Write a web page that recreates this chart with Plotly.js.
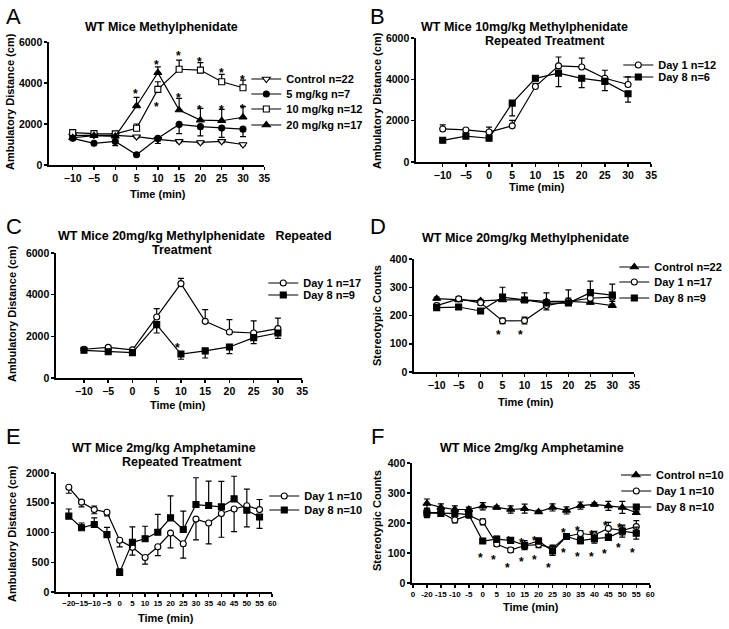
<!DOCTYPE html>
<html><head><meta charset="utf-8">
<script src="https://cdn.plot.ly/plotly-3.0.1.min.js"></script>
<style>html,body{margin:0;padding:0;background:#fff}#chart{width:729px;height:629px}</style>
</head><body><div id="chart"></div>
<script>
// ---------------- DATA ----------------
const timeShort = [-10, -5, 0, 5, 10, 15, 20, 25, 30];
const timeLong = [-20, -15, -10, -5, 0, 5, 10, 15, 20, 25, 30, 35, 40, 45, 50, 55];
const ticksShort = [-10, -5, 0, 5, 10, 15, 20, 25, 30, 35];
const ticksE = [-20, -15, -10, -5, 0, 5, 10, 15, 20, 25, 30, 35, 40, 45, 50, 55, 60];
const ticksFvals = [-25, -20, -15, -10, -5, 0, 5, 10, 15, 20, 25, 30, 35, 40, 45, 50, 55, 60];
const ticksFtext = ["0", "-20", "-15", "-10", "-5", "0", "5", "10", "15", "20", "25", "30", "35", "40", "45", "50", "55", "60"];

// Panel A
const A_ctrl = [1430, 1460, 1450, 1380, 1250, 1150, 1100, 1150, 1000];
const A_ctrl_err = [50, 50, 50, 60, 70, 60, 60, 60, 60];
const A_5 = [1300, 1060, 1150, 500, 1300, 1980, 1870, 1800, 1750];
const A_5_errMinus = [80, 60, 200, 60, 250, 450, 450, 450, 370];
const A_10 = [1580, 1530, 1520, 1790, 3690, 4670, 4630, 4060, 3770];
const A_10_errPlus = [60, 50, 60, 210, 370, 450, 360, 360, 375];
const A_20 = [1330, 1430, 1400, 2880, 4500, 2680, 2190, 2160, 2330];
const A_20_errPlus = [50, 50, 50, 420, 290, 570, 570, 550, 520];
const A_star_x = [4.7, 9.8, 9.8, 14.9, 14.9, 19.8, 19.8, 24.9, 24.9, 29.9, 29.9];
const A_star_y = [3616, 5027, 3000, 5465, 3405, 5189, 2838, 4621, 2838, 4297, 2870];

// Panel B
const B_d1 = [1600, 1550, 1450, 1750, 3650, 4650, 4600, 4050, 3750];
const B_d1_errPlus = [200, 80, 240, 260, 150, 430, 430, 390, 370];
const B_d8 = [1050, 1250, 1150, 2850, 4050, 4300, 4050, 3900, 3300];
const B_d8_errMinus = [50, 50, 50, 620, 50, 650, 450, 450, 400];

// Panel C
const C_d1 = [1380, 1470, 1350, 2930, 4530, 2720, 2210, 2160, 2370];
const C_d1_errPlus = [60, 60, 60, 400, 250, 560, 590, 580, 500];
const C_d8 = [1330, 1260, 1220, 2560, 1150, 1300, 1490, 1940, 2160];
const C_d8_errMinus = [60, 60, 60, 400, 250, 340, 320, 290, 260];
const C_star_x = [9.2];
const C_star_y = [1570];

// Panel D
const D_ctrl = [260, 255, 252, 255, 255, 250, 250, 246, 235];
const D_ctrl_err = [5, 5, 5, 5, 5, 5, 5, 5, 5];
const D_d1 = [235, 259, 245, 181, 182, 235, 250, 261, 265];
const D_d1_err = [8, 8, 8, 10, 12, 15, 12, 15, 15];
const D_d8 = [228, 230, 216, 265, 255, 244, 244, 281, 272];
const D_d8_errPlus = [6, 6, 6, 35, 25, 36, 47, 41, 39];
const D_star_x = [4.1, 9.2];
const D_star_y = [143, 143];

// Panel E
const E_d1 = [1760, 1510, 1385, 1340, 870, 750, 580, 760, 990, 810, 1225, 1160, 1320, 1395, 1450, 1385];
const E_d1_errPlus = [0, 30, 60, 0, 0, 0, 0, 0, 0, 0, 0, 0, 0, 0, 280, 170];
const E_d1_errMinus = [100, 80, 70, 60, 110, 130, 110, 150, 250, 240, 350, 350, 400, 380, 0, 0];
const E_d8 = [1275, 1080, 1135, 965, 330, 835, 895, 1005, 1245, 1050, 1470, 1455, 1430, 1565, 1375, 1260];
const E_d8_errPlus = [120, 80, 110, 120, 60, 260, 210, 300, 370, 310, 450, 410, 430, 380, 0, 0];
const E_d8_errMinus = [0, 0, 0, 0, 0, 0, 0, 0, 0, 0, 0, 0, 0, 0, 280, 190];

// Panel F
const F_ctrl = [265, 252, 245, 245, 256, 252, 245, 248, 237, 252, 242, 258, 262, 257, 252, 234];
const F_ctrl_err = [15, 12, 12, 8, 12, 5, 12, 15, 5, 12, 12, 12, 5, 15, 20, 5];
const F_d1 = [235, 235, 210, 226, 204, 130, 110, 125, 128, 116, 155, 165, 160, 182, 175, 188];
const F_d1_err = [12, 12, 10, 8, 10, 8, 8, 10, 10, 10, 10, 10, 12, 20, 15, 20];
const F_d8 = [233, 232, 232, 228, 140, 146, 142, 126, 140, 107, 155, 141, 148, 152, 173, 166];
const F_d8_err = [15, 10, 10, 8, 8, 10, 8, 15, 10, 15, 10, 10, 15, 10, 20, 20];
const F_star_x = [-0.7, 4, 8.8, 13.8, 18.6, 23.7, 28.8, 33.8, 38.8, 43.7, 48.7, 53.8, 29, 34, 38.9, 43.9, 48.9, 9.2, 13.9, 18.7];
const F_star_y = [94, 86, 61, 81, 86, 61, 110, 96, 97, 107, 127, 110, 177, 182, 171, 199, 193, 149, 143, 149];

// ---------------- STYLE / LAYOUT HELPERS ----------------
const W = 729, H = 629;
const FONT = 'Liberation Sans, Arial, Helvetica, sans-serif';
const fx = p => p / W;
const fy = p => 1 - p / H;

function zeros(n) { return new Array(n).fill(0); }

function tr(x, y, name, sym, fill, size, xa, ya, leg, ep, em) {
  return {
    type: 'scatter', mode: 'lines+markers', x: x, y: y, name: name,
    xaxis: xa, yaxis: ya, legend: leg, cliponaxis: false,
    line: {color: 'black', width: 1.2},
    marker: {symbol: sym, size: size, color: fill, line: {color: 'black', width: 1.1}},
    error_y: {type: 'data', symmetric: false, array: ep, arrayminus: em, color: 'black', thickness: 1.2, width: 3}
  };
}

const traces = [
  // A
  tr(timeShort, A_ctrl, 'Control n=22', 'triangle-down', 'white', 7, 'x', 'y', 'legend', A_ctrl_err, A_ctrl_err),
  tr(timeShort, A_5, '5 mg/kg n=7', 'circle', 'black', 6, 'x', 'y', 'legend2', zeros(9), A_5_errMinus),
  tr(timeShort, A_10, '10 mg/kg n=12', 'square', 'white', 6, 'x', 'y', 'legend3', A_10_errPlus, zeros(9)),
  tr(timeShort, A_20, '20 mg/kg n=17', 'triangle-up', 'black', 7, 'x', 'y', 'legend4', A_20_errPlus, zeros(9)),
  // B
  tr(timeShort, B_d1, 'Day 1 n=12', 'circle', 'white', 6, 'x2', 'y2', 'legend5', B_d1_errPlus, zeros(9)),
  tr(timeShort, B_d8, 'Day 8 n=6', 'square', 'black', 6, 'x2', 'y2', 'legend6', zeros(9), B_d8_errMinus),
  // C
  tr(timeShort, C_d1, 'Day 1 n=17', 'circle', 'white', 6, 'x3', 'y3', 'legend7', C_d1_errPlus, zeros(9)),
  tr(timeShort, C_d8, 'Day 8 n=9', 'square', 'black', 6, 'x3', 'y3', 'legend8', zeros(9), C_d8_errMinus),
  // D
  tr(timeShort, D_ctrl, 'Control n=22', 'triangle-up', 'black', 7, 'x4', 'y4', 'legend9', D_ctrl_err, D_ctrl_err),
  tr(timeShort, D_d1, 'Day 1 n=17', 'circle', 'white', 6, 'x4', 'y4', 'legend10', D_d1_err, D_d1_err),
  tr(timeShort, D_d8, 'Day 8 n=9', 'square', 'black', 6, 'x4', 'y4', 'legend11', D_d8_errPlus, zeros(9)),
  // E
  tr(timeLong, E_d1, 'Day 1 n=10', 'circle', 'white', 6, 'x5', 'y5', 'legend12', E_d1_errPlus, E_d1_errMinus),
  tr(timeLong, E_d8, 'Day 8 n=10', 'square', 'black', 6, 'x5', 'y5', 'legend13', E_d8_errPlus, E_d8_errMinus),
  // F
  tr(timeLong, F_ctrl, 'Control n=10', 'triangle-up', 'black', 7, 'x6', 'y6', 'legend14', F_ctrl_err, F_ctrl_err),
  tr(timeLong, F_d1, 'Day 1 n=10', 'circle', 'white', 6, 'x6', 'y6', 'legend15', F_d1_err, F_d1_err),
  tr(timeLong, F_d8, 'Day 8 n=10', 'square', 'black', 6, 'x6', 'y6', 'legend16', F_d8_err, F_d8_err)
];

function xax(p0, p1, range, vals, text, fs, anchor) {
  return {
    domain: [fx(p0), fx(p1)], range: range, anchor: anchor, fixedrange: true,
    showline: true, linecolor: 'black', linewidth: 1.5, mirror: false,
    ticks: 'outside', ticklen: 3, tickwidth: 1.5, tickcolor: 'black', tickangle: 0,
    showgrid: false, zeroline: false, tickmode: 'array', tickvals: vals, ticktext: text,
    tickfont: {family: FONT, size: fs, color: 'black', weight: 'bold'}
  };
}
function yax(pBottom, pTop, range, vals, anchor) {
  return {
    domain: [fy(pBottom), fy(pTop)], range: range, anchor: anchor, fixedrange: true,
    showline: true, linecolor: 'black', linewidth: 1.5, mirror: false,
    ticks: 'outside', ticklen: 3, tickwidth: 1.5, tickcolor: 'black',
    showgrid: false, zeroline: false, tickmode: 'array', tickvals: vals,
    tickfont: {family: FONT, size: 10.5, color: 'black', weight: 'bold'}
  };
}

const annotations = [];
function txt(x, y, text, size, opts) {
  annotations.push(Object.assign({
    xref: 'paper', yref: 'paper', x: fx(x), y: fy(y), text: text, showarrow: false,
    xanchor: 'center', yanchor: 'middle',
    font: {family: FONT, size: size, color: 'black', weight: 'bold'}
  }, opts || {}));
}
function stars(xs, ys, xa, ya) {
  for (let i = 0; i < xs.length; i++) {
    annotations.push({xref: xa, yref: ya, x: xs[i], y: ys[i], text: '*', showarrow: false,
      xanchor: 'center', yanchor: 'middle', yshift: -3,
      font: {family: FONT, size: 12, color: 'black', weight: 'bold'}});
  }
}

// panel letters
const letterFont = {family: FONT, size: 22, color: 'black', weight: 'normal'};
txt(14, 16, 'A', 22, {font: letterFont});
txt(379, 16, 'B', 22, {font: letterFont});
txt(14, 226, 'C', 22, {font: letterFont});
txt(379, 226, 'D', 22, {font: letterFont});
txt(14, 436, 'E', 22, {font: letterFont});
txt(379, 436, 'F', 22, {font: letterFont});

// titles
txt(162, 27, 'WT Mice Methylphenidate', 12.5);
txt(526, 27, 'WT Mice 10mg/kg Methylphenidate', 12.5);
txt(547, 41, 'Repeated Treatment', 12.5);
txt(196, 236, 'WT Mice 20mg/kg Methylphenidate   Repeated', 12.5);
txt(183, 250, 'Treatment', 12.5);
txt(527, 238, 'WT Mice 20mg/kg Methylphenidate', 12.5);
txt(164, 448, 'WT Mice 2mg/kg Amphetamine', 12.5);
txt(182, 462, 'Repeated Treatment', 12.5);
txt(533, 448, 'WT Mice 2mg/kg Amphetamine', 12.5);

// x-axis titles
txt(158, 194, 'Time (min)', 11);
txt(538, 187, 'Time (min)', 11);
txt(178, 405, 'Time (min)', 11);
txt(527, 402, 'Time (min)', 11);
txt(166, 618, 'Time (min)', 11);
txt(532, 607, 'Time (min)', 11);

// y-axis titles
txt(10, 101, 'Ambulatory Distance (cm)', 11, {textangle: -90});
txt(378, 100, 'Ambulatory Distance (cm)', 11, {textangle: -90});
txt(12, 313, 'Ambulatory Distance (cm)', 11, {textangle: -90});
txt(378, 315, 'Stereotypic Counts', 11, {textangle: -90});
txt(12, 533, 'Ambulatory Distance (cm)', 11, {textangle: -90});
txt(378, 520, 'Stereotypic Counts', 11, {textangle: -90});

stars(A_star_x, A_star_y, 'x', 'y');
stars(C_star_x, C_star_y, 'x3', 'y3');
stars(D_star_x, D_star_y, 'x4', 'y4');
stars(F_star_x, F_star_y, 'x6', 'y6');

const layout = {
  width: W, height: H, margin: {l: 0, r: 0, t: 0, b: 0},
  paper_bgcolor: 'white', plot_bgcolor: 'rgba(0,0,0,0)',
  showlegend: true, annotations: annotations,
  font: {family: FONT, color: 'black'},
  xaxis: xax(49, 265, [-15.6, 35], ticksShort, null, 10.5, 'y'),
  yaxis: yax(165, 42, [0, 6000], [0, 2000, 4000, 6000], 'x'),
  xaxis2: xax(417, 653, [-15.8, 35], ticksShort, null, 10.5, 'y2'),
  yaxis2: yax(162, 38, [0, 6000], [0, 2000, 4000, 6000], 'x2'),
  xaxis3: xax(56, 303, [-15.8, 35], ticksShort, null, 10.5, 'y3'),
  yaxis3: yax(378, 253, [0, 6000], [0, 2000, 4000, 6000], 'x3'),
  xaxis4: xax(415, 636, [-15.2, 35], ticksShort, null, 10.5, 'y4'),
  yaxis4: yax(372, 259, [0, 400], [0, 100, 200, 300, 400], 'x4'),
  xaxis5: xax(56, 273, [-25.1, 60], ticksE, null, 7.8, 'y5'),
  yaxis5: yax(592, 473, [0, 2000], [0, 500, 1000, 1500, 2000], 'x5'),
  xaxis6: xax(413, 652, [-25.4, 60], ticksFvals, ticksFtext, 8, 'y6'),
  yaxis6: yax(583, 463, [0, 400], [0, 100, 200, 300, 400], 'x6')
};

// individual legends (one per entry) to match compact spacing
const legendSpecs = [
  ['legend', 287, 79], ['legend2', 287, 94], ['legend3', 287, 109], ['legend4', 287, 125],
  ['legend5', 660, 65], ['legend6', 660, 77],
  ['legend7', 304, 283], ['legend8', 304, 295],
  ['legend9', 656, 267], ['legend10', 656, 282], ['legend11', 656, 298],
  ['legend12', 305, 496], ['legend13', 305, 510],
  ['legend14', 658, 475], ['legend15', 658, 491], ['legend16', 658, 507]
];
legendSpecs.forEach(function (s) {
  layout[s[0]] = {
    x: fx(s[1] - 40), y: fy(s[2]), xanchor: 'left', yanchor: 'middle',
    bgcolor: 'rgba(0,0,0,0)', borderwidth: 0,
    font: {family: FONT, size: 11, color: 'black', weight: 'bold'}
  };
});

Plotly.newPlot('chart', traces, layout, {displayModeBar: false, staticPlot: true});
</script>
</body></html>
